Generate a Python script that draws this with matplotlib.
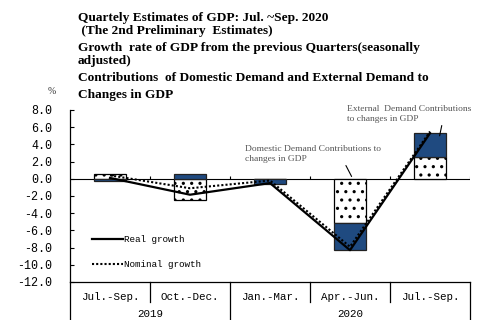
import matplotlib
matplotlib.use('Agg')
import matplotlib.pyplot as plt
from matplotlib.lines import Line2D
import numpy as np

# ── Data ─────────────────────────────────────────────────────────────────────
quarters = ['Jul.-Sep.', 'Oct.-Dec.', 'Jan.-Mar.', 'Apr.-Jun.', 'Jul.-Sep.']
years = ['2019', '2020']
year_span = [2, 3]                      # quarters per year
domestic = [0.5, -2.5, -0.05, -5.1, 2.5]
external = [-0.3, 0.55, -0.55, -3.2, 2.85]
real_growth = [0.1, -1.85, -0.5, -8.3, 5.3]
nominal_growth = [0.4, -1.1, -0.2, -7.9, 5.5]
yticks = np.arange(-12, 9, 2)

BLUE = '#1F4A80'
plt.rcParams['hatch.linewidth'] = 1.1

fig = plt.figure(figsize=(4.81, 3.2), dpi=100)
ax = fig.add_axes([70/481, 38/320, 400/481, 172/320])

x = np.arange(len(quarters)) + 0.5
w = 0.41

# stacked contributions: positives stack up, negatives stack down
dom = np.array(domestic)
ext = np.array(external)
ext_base = np.where(np.sign(ext) == np.sign(dom), dom, 0.0)
ax.bar(x, dom, w, color='white', edgecolor='black', hatch='..', linewidth=0.9, zorder=2)
ax.bar(x, ext, w, bottom=ext_base, color=BLUE, edgecolor='#222222', linewidth=0.9, zorder=2)

ax.plot(x, real_growth, color='black', lw=1.6, zorder=4)
ax.plot(x, nominal_growth, color='black', lw=1.5, ls=(0, (1, 1)), zorder=3)

# zero line with small upward ticks at category borders
ax.axhline(0, color='black', lw=0.8, zorder=1)
ax.vlines(np.arange(1, len(quarters) + 1), 0, 0.35, color='black', lw=0.8)

ax.set_xlim(0, len(quarters))
ax.set_ylim(-12, 8)
ax.set_yticks(yticks)
ax.set_yticklabels([f'{v:.1f}' for v in yticks], family='Liberation Mono', fontsize=8.4)
ax.tick_params(axis='y', direction='in', length=3, width=0.8, pad=13)
ax.set_xticks([])
for s in ['top', 'right']:
    ax.spines[s].set_visible(False)
ax.spines['left'].set_linewidth(0.9)
ax.spines['bottom'].set_linewidth(0.9)

# ── category table below the plot ──
for b in range(len(quarters) + 1):
    long_line = b in np.cumsum([0] + year_span)
    ax.plot([b, b], [-12, -17 if long_line else -14.3], color='black', lw=0.9, clip_on=False)
for xi, q in zip(x, quarters):
    ax.text(xi, -13.75, q, ha='center', va='center', family='Liberation Mono', fontsize=7.8)
start = 0
for yr, n in zip(years, year_span):
    ax.text(start + n / 2, -16.35, yr, ha='center', va='bottom', family='Liberation Mono', fontsize=7.8)
    start += n

# ── legend ──
handles = [Line2D([], [], color='black', lw=1.6),
           Line2D([], [], color='black', lw=1.5, ls=(0, (1, 1)))]
ax.legend(handles, ['Real growth', 'Nominal growth'], loc='upper left',
          bbox_to_anchor=(0.055, 0.273), frameon=False, borderpad=0, borderaxespad=0,
          handlelength=3.3, handletextpad=0.1, labelspacing=1.7,
          prop={'family': 'Liberation Mono', 'size': 6.7})

# ── annotations ──
ax.annotate('External  Demand Contributions\nto changes in GDP', xy=(4.62, 5.0), xytext=(3.46, 8.55),
            ha='left', va='top', fontsize=6.8, family='Liberation Serif', color='#555555',
            annotation_clip=False, linespacing=1.25,
            arrowprops=dict(arrowstyle='-', color='black', lw=0.8, shrinkA=0, shrinkB=0,
                            relpos=(0.78, 0.4)))
ax.annotate('Domestic Demand Contributions to\nchanges in GDP', xy=(3.52, 0.27), xytext=(2.19, 3.9),
            ha='left', va='top', fontsize=6.8, family='Liberation Serif', color='#555555',
            linespacing=1.25,
            arrowprops=dict(arrowstyle='-', color='black', lw=0.8, shrinkA=0, shrinkB=0,
                            relpos=(0.73, 0.0)))

# ── titles ──
title_lines = [('Quartely Estimates of GDP: Jul. ~Sep. 2020', 78, 18),
               (' (The 2nd Preliminary  Estimates)', 78, 31),
               ('Growth  rate of GDP from the previous Quarters(seasonally', 78, 48),
               ('adjusted)', 78, 61),
               ('Contributions  of Domestic Demand and External Demand to', 78, 78),
               ('Changes in GDP', 78, 95)]
for t, px, py in title_lines:
    fig.text(px / 481, 1 - py / 320, t, ha='left', va='center', family='Liberation Serif',
             fontweight='bold', fontsize=9.6)
fig.text(52 / 481, 1 - 92 / 320, '%', ha='center', va='center', family='Liberation Serif',
         fontsize=7, color='#333333')

fig.savefig('out.png', dpi=100)
